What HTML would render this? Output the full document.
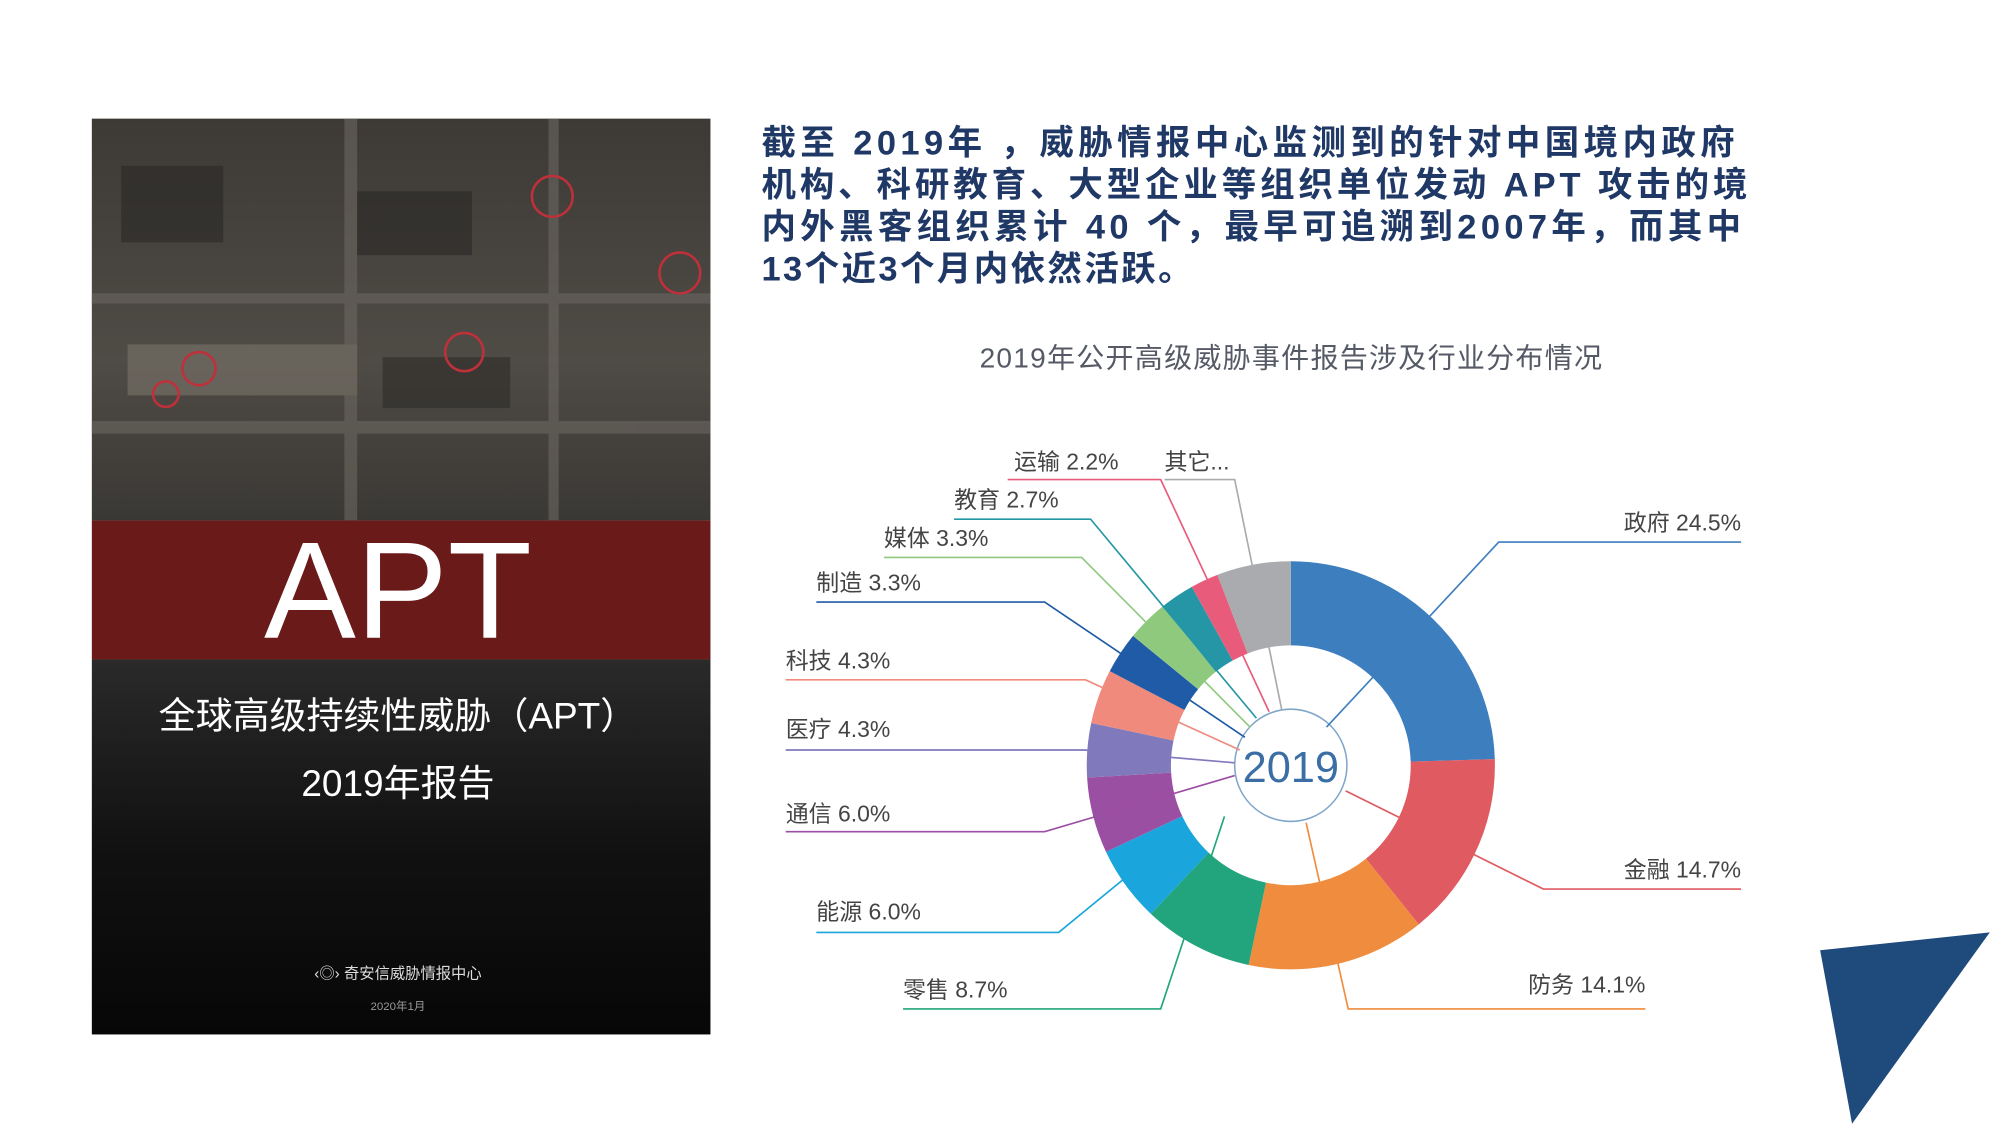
<!DOCTYPE html>
<html><head><meta charset="utf-8"><style>
html,body{margin:0;padding:0;background:#fff;}
svg{display:block;}
text{font-family:"Liberation Sans","Noto Sans CJK SC",sans-serif;}
</style></head><body>
<svg width="2000" height="1124" viewBox="0 0 1568 881.2" xmlns="http://www.w3.org/2000/svg">
<defs>
<linearGradient id="top" x1="0" y1="0" x2="0" y2="1">
<stop offset="0" stop-color="#3d3a36"/><stop offset="0.6" stop-color="#4f4b45"/><stop offset="1" stop-color="#3a3835"/></linearGradient>
<linearGradient id="bot" x1="0" y1="0" x2="0" y2="1">
<stop offset="0" stop-color="#2a2a2a"/><stop offset="0.5" stop-color="#111"/><stop offset="1" stop-color="#070707"/></linearGradient>
</defs>
<rect width="1568" height="881.2" fill="#fff"/>
<rect x="72" y="93" width="485" height="315" fill="url(#top)"/>
<g fill="#6b6660" opacity="0.6">
<rect x="72" y="230" width="485" height="8"/><rect x="72" y="330" width="485" height="10"/>
<rect x="270" y="93" width="10" height="315"/><rect x="430" y="93" width="8" height="315"/>
<rect x="100" y="270" width="180" height="40" fill="#7a746b"/>
<rect x="95" y="130" width="80" height="60" fill="#2a2826"/>
<rect x="280" y="150" width="90" height="50" fill="#2a2826"/>
<rect x="300" y="280" width="100" height="40" fill="#2e2c29"/>
</g>
<g fill="none" stroke="#c0303a" stroke-width="2">
<circle cx="433" cy="154" r="16"/><circle cx="533" cy="214" r="16"/><circle cx="364" cy="276" r="15"/><circle cx="156" cy="289" r="13"/><circle cx="130" cy="309" r="10"/>
</g>
<rect x="72" y="408" width="485" height="109" fill="#6b1a1a"/>
<rect x="72" y="517" width="485" height="294" fill="url(#bot)"/>
<text x="312" y="500" text-anchor="middle" font-size="108" fill="#fff">APT</text>
<text x="312" y="571" text-anchor="middle" font-size="29" fill="#fff">全球高级持续性威胁（APT）</text>
<text x="312" y="624" text-anchor="middle" font-size="29" fill="#fff">2019年报告</text>
<text x="312" y="767" text-anchor="middle" font-size="12" fill="#ddd">‹◎› 奇安信威胁情报中心</text>
<text x="312" y="792" text-anchor="middle" font-size="9" fill="#999">2020年1月</text>
<g font-size="27" fill="#1f3866" font-weight="bold">
<text x="597" y="121" textLength="763" lengthAdjust="spacing">截至 2019年 ，威胁情报中心监测到的针对中国境内政府</text>
<text x="597" y="154" textLength="773" lengthAdjust="spacing">机构、科研教育、大型企业等组织单位发动 APT 攻击的境</text>
<text x="597" y="187" textLength="768" lengthAdjust="spacing">内外黑客组织累计 40 个，最早可追溯到2007年，而其中</text>
<text x="597" y="220" textLength="338" lengthAdjust="spacing">13个近3个月内依然活跃。</text>
</g>
<text x="1012" y="288" text-anchor="middle" font-size="22" fill="#555a66" textLength="488" lengthAdjust="spacing">2019年公开高级威胁事件报告涉及行业分布情况</text>
<g transform="rotate(-90 1012 600)" fill="none" stroke-width="66">
<circle cx="1012" cy="600" r="127" stroke="#3d7ebf" stroke-dasharray="195.50 797.96" stroke-dashoffset="0"/>
<circle cx="1012" cy="600" r="127" stroke="#e05a62" stroke-dasharray="117.30 797.96" stroke-dashoffset="-195.50"/>
<circle cx="1012" cy="600" r="127" stroke="#ef8c3e" stroke-dasharray="112.51 797.96" stroke-dashoffset="-312.80"/>
<circle cx="1012" cy="600" r="127" stroke="#22a57c" stroke-dasharray="69.42 797.96" stroke-dashoffset="-425.31"/>
<circle cx="1012" cy="600" r="127" stroke="#1aa6dc" stroke-dasharray="47.88 797.96" stroke-dashoffset="-494.74"/>
<circle cx="1012" cy="600" r="127" stroke="#9b4fa3" stroke-dasharray="47.88 797.96" stroke-dashoffset="-542.61"/>
<circle cx="1012" cy="600" r="127" stroke="#8079bb" stroke-dasharray="34.31 797.96" stroke-dashoffset="-590.49"/>
<circle cx="1012" cy="600" r="127" stroke="#ef8a7d" stroke-dasharray="34.31 797.96" stroke-dashoffset="-624.80"/>
<circle cx="1012" cy="600" r="127" stroke="#1f5ba6" stroke-dasharray="26.33 797.96" stroke-dashoffset="-659.11"/>
<circle cx="1012" cy="600" r="127" stroke="#8ec97e" stroke-dasharray="26.33 797.96" stroke-dashoffset="-685.45"/>
<circle cx="1012" cy="600" r="127" stroke="#2596a6" stroke-dasharray="21.54 797.96" stroke-dashoffset="-711.78"/>
<circle cx="1012" cy="600" r="127" stroke="#e95b7b" stroke-dasharray="17.56 797.96" stroke-dashoffset="-733.33"/>
<circle cx="1012" cy="600" r="127" stroke="#a9abae" stroke-dasharray="47.08 797.96" stroke-dashoffset="-750.88"/>
</g>
<circle cx="1012" cy="600" r="44" fill="#fff" stroke="#7fa6c8" stroke-width="1.2"/>
<text x="1012" y="613" text-anchor="middle" font-size="34" fill="#3a6ea5">2019</text>
<g fill="none" stroke-width="1.3">
<polyline stroke="#3d7ebf" points="1365,425 1175,425 1040,570"/>
<polyline stroke="#e05a62" points="1365,697 1210,697 1055,620"/>
<polyline stroke="#ef8c3e" points="1290,791 1057,791 1024,645"/>
<polyline stroke="#22a57c" points="708,791 910,791 960,640"/>
<polyline stroke="#1aa6dc" points="640,731 830,731 880,690"/>
<polyline stroke="#9b4fa3" points="616,652 819,652 968,608"/>
<polyline stroke="#8079bb" points="616,588 850,588 968,598"/>
<polyline stroke="#ef8a7d" points="616,533 851,533 972,588"/>
<polyline stroke="#1f5ba6" points="640,472 819,472 976,578"/>
<polyline stroke="#8ec97e" points="693,437 848,437 980,570"/>
<polyline stroke="#2596a6" points="748,407 855,407 985,563"/>
<polyline stroke="#e95b7b" points="790,376 910,376 995,558"/>
<polyline stroke="#a9abae" points="913,376 968,376 1005,557"/>
</g>
<g font-size="18" fill="#444">
<text x="1365" y="416" text-anchor="end">政府 24.5%</text>
<text x="1365" y="688" text-anchor="end">金融 14.7%</text>
<text x="1290" y="778" text-anchor="end">防务 14.1%</text>
<text x="708" y="782">零售 8.7%</text>
<text x="640" y="721">能源 6.0%</text>
<text x="616" y="644">通信 6.0%</text>
<text x="616" y="578">医疗 4.3%</text>
<text x="616" y="524">科技 4.3%</text>
<text x="640" y="463">制造 3.3%</text>
<text x="693" y="428">媒体 3.3%</text>
<text x="748" y="398">教育 2.7%</text>
<text x="795" y="368">运输 2.2%</text>
<text x="913" y="368">其它...</text>
</g>
<polygon points="1427,745 1560,731 1452,881" fill="#1f4a7c"/>
</svg>
</body></html>
